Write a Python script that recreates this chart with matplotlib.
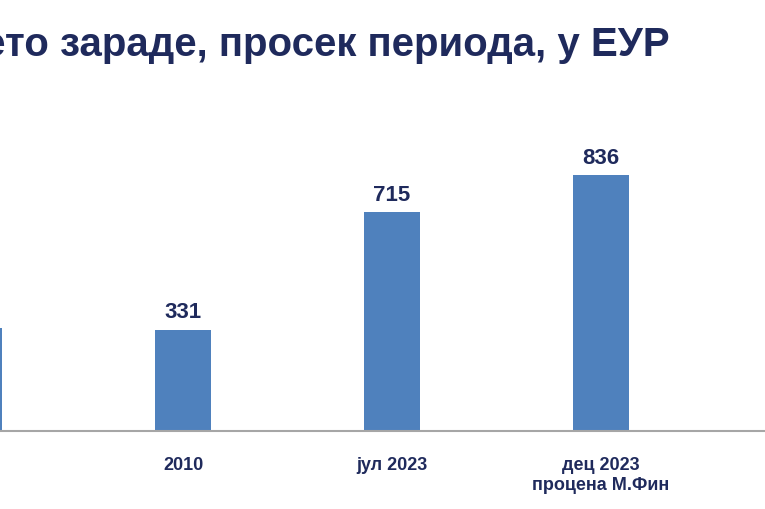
import numpy as np
import matplotlib.pyplot as plt

plt.rcParams["font.family"] = ["Liberation Sans", "DejaVu Sans"]

categories = ["2000", "2010", "јул 2023", "дец 2023\nпроцена М.Фин", "дец 2024\nпроцена М.Фин"]
values = [338, 331, 715, 836, 900]
shown_labels = [None, "331", "715", "836", None]

navy = "#1F2A5C"
bar_color = "#4F81BD"

fig = plt.figure(figsize=(7.65, 5.10), dpi=100)
ax = fig.add_axes([0, 1 - 432 / 510, 1, 432 / 510 - 0.05])
x = np.arange(len(categories))
ax.bar(x, values, width=0.268, color=bar_color)

for xi, v, lab in zip(x, values, shown_labels):
    if lab:
        ax.text(xi, v + 25, lab, ha="center", va="bottom", fontsize=16,
                fontweight="bold", color=navy)

ax.set_xticks(x)
ax.set_xticklabels([" ".join(c) if False else c for c in categories], fontsize=13,
                   fontweight="bold", color=navy, linespacing=1.2)
ax.tick_params(axis="x", length=0, pad=18)
ax.set_xlim(0.124, 3.785)
ax.set_ylim(0, 1330)
ax.set_yticks([])
for s in ["top", "left", "right"]:
    ax.spines[s].set_visible(False)
ax.spines["bottom"].set_color("#A6A6A6")
ax.spines["bottom"].set_linewidth(1.5)

fig.text(-0.06, 1 - 45 / 510, "Нето зараде, просек периода, у ЕУР", ha="left",
         va="center", fontsize=29, fontweight="bold", color=navy)

fig.savefig("out.png", dpi=100)
